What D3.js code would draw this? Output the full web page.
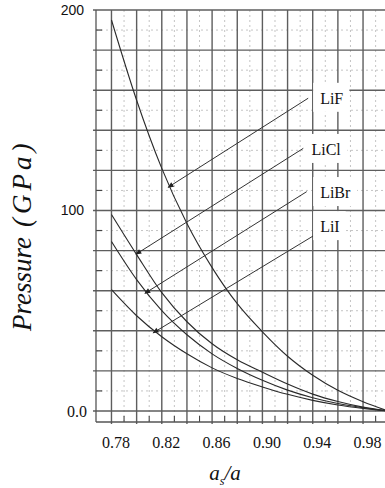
<!DOCTYPE html>
<html>
<head>
<meta charset="utf-8">
<script src="https://cdn.jsdelivr.net/npm/d3@7"></script>
<style>
  body { margin: 0; background: #fff; }
  .container { width: 385px; height: 488px; }
</style>
</head>
<body>
<div class="container"></div>
<script>
// DATA ////////////////////////////////////////////////////////////
var ratio = [0.78, 0.80, 0.82, 0.84, 0.86, 0.88, 0.90, 0.92, 0.94, 0.96, 0.98, 1.00]
var pLiF  = [195, 155, 121, 93.5, 71.5, 53.5, 39.5, 27.3, 17.8, 10.3, 4.6, 0]
var pLiCl = [98, 78, 59, 44.5, 33.5, 25.5, 19.3, 13.4, 8.4, 4.7, 1.9, 0]
var pLiBr = [84.5, 65.5, 50, 38, 28.5, 21.2, 15.3, 10.4, 6.6, 3.7, 1.6, 0]
var pLiI  = [60.5, 47.5, 37, 28.5, 21.5, 16.2, 12, 8.3, 5.3, 3, 1.3, 0]

var series = [
    { name: 'LiF',  values: pLiF },
    { name: 'LiCl', values: pLiCl },
    { name: 'LiBr', values: pLiBr },
    { name: 'LiI',  values: pLiI }
]

// arrow annotations: label position -> arrow tip (data units)
var labelX = [0.9459, 0.9390, 0.9459, 0.9459]
var labelP = [156, 130.5, 109, 92]
var fromX  = [0.9364, 0.9325, 0.9352, 0.9404]
var fromP  = [156, 131, 109.4, 87.3]
var tipX   = [0.8251, 0.7995, 0.8066, 0.8132]
var tipP   = [111.6, 78.2, 58.7, 39]

var xTicks = [0.78, 0.82, 0.86, 0.90, 0.94, 0.98]
var yTicks = [0, 100, 200]
var xMajor = [0.78, 0.80, 0.82, 0.84, 0.86, 0.88, 0.90, 0.92, 0.94, 0.96, 0.98, 1.00]
var xMinor = [0.79, 0.81, 0.83, 0.85, 0.87, 0.89, 0.91, 0.93, 0.95, 0.97, 0.99]
var yMajor = [0, 20, 40, 60, 80, 100, 120, 140, 160, 180, 200]
var yMinor = [10, 30, 50, 70, 90, 110, 130, 150, 170, 190]
////////////////////////////////////////////////////////////////////

var w = 385, h = 488
var serif = '"Liberation Serif", "Times New Roman", serif'

var x = d3.scaleLinear().domain([0.7677, 1.0]).range([96, 388.2])
var y = d3.scaleLinear().domain([-5.5, 200]).range([422, 10])

var svg = d3.select('.container')
    .append('svg')
    .attr('width', w)
    .attr('height', h)

svg.append('rect')
    .attr('width', '100%')
    .attr('height', '100%')
    .style('fill', '#fff')

var defs = svg.append('defs')
defs.append('marker')
    .attr('id', 'head')
    .attr('viewBox', '0 -4 8 8')
    .attr('refX', 7)
    .attr('refY', 0)
    .attr('markerWidth', 7)
    .attr('markerHeight', 6)
    .attr('markerUnits', 'userSpaceOnUse')
    .attr('orient', 'auto')
    .append('path')
    .attr('d', 'M0,-3.5L8,0L0,3.5Z')
    .style('fill', '#222')

var grid = svg.append('g')

// minor dashed grid
grid.selectAll('.vmin')
    .data(xMinor)
    .enter()
    .append('line')
    .attr('x1', d => x(d)).attr('x2', d => x(d))
    .attr('y1', y(200)).attr('y2', y(-5.5))
    .style('stroke', '#b5b5b5')
    .style('stroke-width', 0.8)
    .style('stroke-dasharray', '2,3')

grid.selectAll('.hmin')
    .data(yMinor)
    .enter()
    .append('line')
    .attr('x1', x.range()[0]).attr('x2', w)
    .attr('y1', d => y(d)).attr('y2', d => y(d))
    .style('stroke', '#b5b5b5')
    .style('stroke-width', 0.8)
    .style('stroke-dasharray', '2,3')

// small ticks on left axis and bottom frame
grid.selectAll('.ltick')
    .data(yMinor)
    .enter()
    .append('line')
    .attr('x1', 96).attr('x2', 102)
    .attr('y1', d => y(d)).attr('y2', d => y(d))
    .style('stroke', '#444')
    .style('stroke-width', 1.2)

grid.selectAll('.btick')
    .data(xMinor)
    .enter()
    .append('line')
    .attr('x1', d => x(d)).attr('x2', d => x(d))
    .attr('y1', 416).attr('y2', 422)
    .style('stroke', '#444')
    .style('stroke-width', 1.1)

// major grid
grid.selectAll('.vmaj')
    .data(xMajor)
    .enter()
    .append('line')
    .attr('x1', d => x(d)).attr('x2', d => x(d))
    .attr('y1', y(200)).attr('y2', 424)
    .style('stroke', '#5e5e5e')
    .style('stroke-width', 1.4)

grid.selectAll('.hmaj')
    .data(yMajor)
    .enter()
    .append('line')
    .attr('x1', 93).attr('x2', w)
    .attr('y1', d => y(d)).attr('y2', d => y(d))
    .style('stroke', '#5e5e5e')
    .style('stroke-width', 1.4)

// frame: left axis and bottom line
grid.append('line')
    .attr('x1', 96).attr('x2', 96)
    .attr('y1', y(200)).attr('y2', 422)
    .style('stroke', '#555').style('stroke-width', 1.3)
grid.append('line')
    .attr('x1', 96).attr('x2', w)
    .attr('y1', 422).attr('y2', 422)
    .style('stroke', '#555').style('stroke-width', 1.3)

// labels with white boxes behind them
var labels = svg.append('g')
var lt = labels.selectAll('text')
    .data(series)
    .enter()
    .append('text')
    .attr('x', (d, i) => x(labelX[i]))
    .attr('y', (d, i) => y(labelP[i]))
    .attr('dy', '0.35em')
    .attr('font-family', serif)
    .style('font-size', '16px')
    .style('fill', '#111')
    .text(d => d.name)

lt.each(function () {
    var b = this.getBBox()
    labels.insert('rect', 'text')
        .attr('x', b.x - 7)
        .attr('y', b.y - 7)
        .attr('width', b.width + 13)
        .attr('height', b.height + 12)
        .style('fill', '#fff')
})

// curves
var line = d3.line()
    .x((d, i) => x(ratio[i]))
    .y(d => y(d))
    .curve(d3.curveMonotoneX)

svg.append('g')
    .selectAll('path')
    .data(series)
    .enter()
    .append('path')
    .attr('d', d => line(d.values))
    .style('fill', 'none')
    .style('stroke', '#2a2a2a')
    .style('stroke-width', 1.1)

// arrows
svg.append('g')
    .selectAll('line')
    .data(series)
    .enter()
    .append('line')
    .attr('x1', (d, i) => x(fromX[i]))
    .attr('y1', (d, i) => y(fromP[i]))
    .attr('x2', (d, i) => x(tipX[i]))
    .attr('y2', (d, i) => y(tipP[i]))
    .attr('marker-end', 'url(#head)')
    .style('stroke', '#333')
    .style('stroke-width', 1)

labels.raise()

// axes
var yAxis = svg.append('g')
    .attr('transform', 'translate(84,0)')
    .call(d3.axisLeft(y).tickValues(yTicks).tickSize(0).tickPadding(0)
        .tickFormat(d => d === 0 ? '0.0' : d))
yAxis.select('.domain').remove()
yAxis.selectAll('text')
    .attr('font-family', '"Liberation Sans", Arial, sans-serif')
    .style('font-size', '14px')
    .style('fill', '#111')
yAxis.selectAll('.tick')
    .filter(d => d === 0)
    .select('text')
    .attr('x', 3)
    .attr('font-family', serif)
    .style('font-size', '16px')

var xAxis = svg.append('g')
    .attr('transform', 'translate(4,422)')
    .attr('font-family', serif)
    .call(d3.axisBottom(x).tickValues(xTicks).tickSize(0).tickPadding(15)
        .tickFormat(d3.format('.2f')))
xAxis.attr('font-family', serif)
xAxis.select('.domain').remove()
xAxis.selectAll('text')
    .attr('font-family', serif)
    .style('font-family', serif)
    .style('font-size', '16px')
    .style('fill', '#111')

// axis titles
var xt = svg.append('text')
    .attr('x', 225)
    .attr('y', 480)
    .attr('text-anchor', 'middle')
    .attr('font-family', serif)
    .style('font-style', 'italic')
    .style('font-size', '21px')
    .style('fill', '#111')
xt.append('tspan').text('a')
xt.append('tspan').attr('dy', 5).style('font-size', '12px').text('s')
xt.append('tspan').attr('dy', -5).text('/a')

var yt = svg.append('text')
    .attr('transform', 'translate(31,331) rotate(-90)')
    .attr('font-family', serif)
    .style('font-style', 'italic')
    .style('font-size', '27px')
    .style('fill', '#111')
yt.append('tspan').text('Pressure')
yt.append('tspan').attr('dx', 10).style('letter-spacing', '4px').text('(GPa)')
</script>
</body>
</html>
